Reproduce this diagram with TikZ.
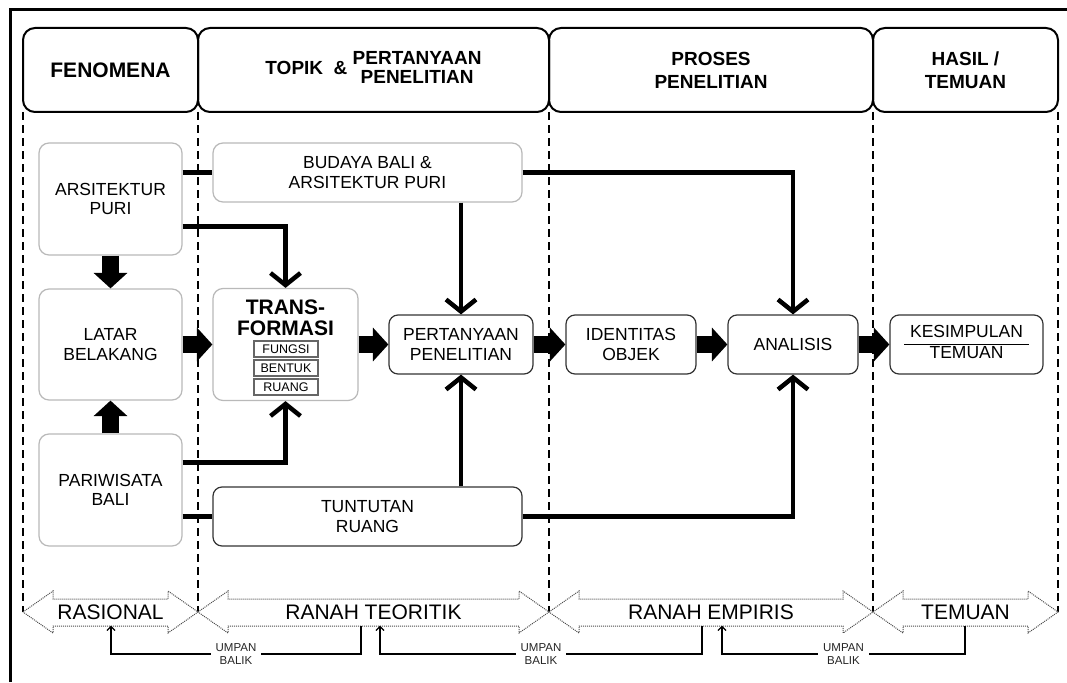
\documentclass[tikz,border=0pt]{standalone}
\usepackage{fontspec}
\setmainfont{Liberation Sans}
\usetikzlibrary{arrows.meta}

\tikzset{
  kop/.style={draw, line width=2pt, rounded corners=12pt, minimum height=84pt, align=center, font=\fontsize{19}{23}\selectfont\bfseries},
  kotak/.style={draw=gray!55, line width=1.2pt, rounded corners=10pt, fill=white, align=center, font=\fontsize{17.5}{19.5}\selectfont},
  kotakb/.style={kotak, draw=black!80, rounded corners=9pt, minimum height=59pt},
  sub/.style={draw=black!60, line width=1.1pt, minimum width=64pt, minimum height=16pt, inner sep=0pt, font=\fontsize{12.5}{12.5}\selectfont},
  gemuk/.style={line width=17pt, -{Triangle[length=15.5pt,width=33pt]}},
  garis/.style={line width=4.5pt, -{Straight Barb[length=12pt,width=30pt]}},
  batas/.style={line width=1.5pt, dash pattern=on 8pt off 5pt},
  ranah/.style={draw=black!70, line width=1pt, densely dotted, fill=white},
  umpan/.style={line width=1.5pt, -{Straight Barb[length=4pt,width=8pt,line width=1.2pt]}},
  balik/.style={fill=white, inner xsep=5pt, inner ysep=1pt, align=center, text=black!85, font=\fontsize{11.5}{12.5}\selectfont}
}

\begin{document}
\begin{tikzpicture}[x=1pt,y=-1pt]
  \useasboundingbox (0,0) rectangle (1067,682);
  \fill[white] (0,0) rectangle (1067,682);
  \draw[line width=3pt] (10,682) -- (10,10) -- (1067,10);

  \node[kop, minimum width=175pt] (fenomena) at (110.5,70) {\fontsize{21}{23}\selectfont FENOMENA};
  \node[kop, minimum width=351pt] (topik) at (373.5,70) {TOPIK\ \ \& {\renewcommand\arraystretch{0.75}\begin{tabular}[c]{@{}c@{}}PERTANYAAN\\PENELITIAN\end{tabular}}};
  \node[kop, minimum width=324pt] (proses) at (711,70) {PROSES\\PENELITIAN};
  \node[kop, minimum width=185pt] (hasil) at (965.5,70) {HASIL /\\TEMUAN};

  \foreach \x in {23,198,549,873,1058}
    \draw[batas] (\x,112) -- (\x,612);

  \foreach \a/\b/\nama/\teks in {23/198/rasional/RASIONAL, 198/549/teoritik/RANAH TEORITIK, 549/873/empiris/RANAH EMPIRIS, 873/1058/temuan/TEMUAN}{
    \draw[ranah] (\a,612) -- (\a+30,591) -- (\a+30,599) -- (\b-30,599) -- (\b-30,591) -- (\b,612)
      -- (\b-30,633) -- (\b-30,626) -- (\a+30,626) -- (\a+30,633) -- cycle;
    \node[font=\fontsize{21}{21}\selectfont, minimum height=27pt, inner sep=0pt] (\nama) at ({(\a+\b)/2},612) {\teks};
  }

  \node[kotak, minimum width=143pt, minimum height=112pt] (ars) at (110.5,199) {ARSITEKTUR\\PURI};
  \node[kotak, minimum width=143pt, minimum height=111pt] (latar) at (110.5,344.5) {LATAR\\BELAKANG};
  \node[kotak, minimum width=143pt, minimum height=112pt] (pari) at (110.5,490) {PARIWISATA\\BALI};

  \node[kotak, minimum width=309pt, minimum height=59pt] (budaya) at (367.5,172.5) {BUDAYA BALI \&\\ARSITEKTUR PURI};
  \node[kotak, minimum width=145pt, minimum height=112pt] (trans) at (285.5,344.5) {};
  \node[align=center, font=\fontsize{21}{21}\selectfont\bfseries] (transjudul) at (285.5,318) {TRANS-\\FORMASI};
  \node[sub] (fungsi) at (286,349) {FUNGSI};
  \node[sub] (bentuk) at (286,368) {BENTUK};
  \node[sub] (ruang) at (286,387) {RUANG};

  \node[kotakb, minimum width=144pt] (pert) at (461,344.5) {PERTANYAAN\\PENELITIAN};
  \node[kotakb, minimum width=130pt] (ident) at (631,344.5) {IDENTITAS\\OBJEK};
  \node[kotakb, minimum width=130pt] (anal) at (793,344.5) {ANALISIS};
  \node[kotakb, minimum width=153pt] (kesim) at (966.5,344.5) {\setlength\arrayrulewidth{1.5pt}\begin{tabular}{c}KESIMPULAN\\\hline TEMUAN\end{tabular}};
  \node[kotakb, minimum width=309pt] (tuntut) at (367.5,516.5) {TUNTUTAN\\RUANG};

  \draw[gemuk] (ars) -- (latar);
  \draw[gemuk] (pari) -- (latar);
  \draw[gemuk] (latar) -- (trans);
  \draw[gemuk] (trans) -- (pert);
  \draw[gemuk] (pert) -- (ident);
  \draw[gemuk] (ident) -- (anal);
  \draw[gemuk] (anal) -- (kesim);

  \draw[line width=4.5pt] (ars.east |- budaya) -- (budaya.west);
  \draw[line width=4.5pt] (pari.east |- tuntut) -- (tuntut.west);
  \draw[garis] ([yshift=29pt]ars.south east) -| (trans.north);
  \draw[garis] ([yshift=-29pt]pari.north east) -| (trans.south);
  \draw[garis] (budaya.south -| pert) -- (pert.north);
  \draw[garis] (tuntut.north -| pert) -- (pert.south);
  \draw[garis] (budaya.east) -| (anal.north);
  \draw[garis] (tuntut.east) -| (anal.south);

  \draw[umpan] (teoritik.south -| 361,0) -- (361,654) -- node[balik] {UMPAN\\BALIK} (111,654) -- (rasional.south -| 111,0);
  \draw[umpan] (empiris.south -| 702,0) -- (702,654) -- node[balik] {UMPAN\\BALIK} (380,654) -- (teoritik.south -| 380,0);
  \draw[umpan] (temuan.south -| 965,0) -- (965,654) -- node[balik] {UMPAN\\BALIK} (722,654) -- (empiris.south -| 722,0);

\end{tikzpicture}
\end{document}
